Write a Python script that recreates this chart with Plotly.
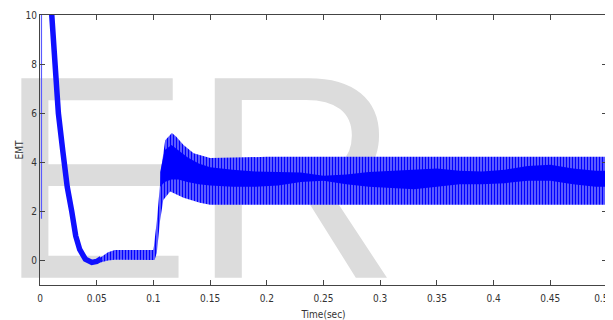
import plotly.graph_objects as go

# ---- data ----
# initial thin spike at t ~ 0
spike_t = [0.0013, 0.0013]
spike_v = [1.7, 14.0]

# descent of the torque (centre line)
desc_t = [0.0013, 0.005, 0.0095, 0.0103, 0.0133, 0.0162, 0.0200, 0.0240, 0.0280,
          0.0315, 0.0350, 0.0400, 0.0457, 0.0500, 0.0540]
desc_v = [14.0, 13.0, 10.6, 10.0, 8.0, 6.0, 4.5, 3.0, 2.0,
          1.0, 0.45, 0.05, -0.08, -0.04, 0.08]

# ripple envelope (upper / lower edges)
up_t = [0.050, 0.055, 0.060, 0.066, 0.080, 0.0998, 0.1005, 0.1031, 0.1075, 0.1104,
        0.1163, 0.1200, 0.1266, 0.1355, 0.150, 0.200, 0.300, 0.400, 0.500]
up_v = [0.02, 0.18, 0.33, 0.43, 0.43, 0.43, 0.60, 1.65, 3.96, 4.90,
        5.19, 5.05, 4.70, 4.37, 4.17, 4.22, 4.22, 4.22, 4.22]
lo_t = [0.050, 0.055, 0.060, 0.066, 0.080, 0.1010, 0.1030, 0.1058, 0.1087, 0.1148,
        0.1266, 0.1410, 0.150, 0.500]
lo_v = [-0.12, -0.05, 0.00, 0.03, 0.02, 0.02, 0.30, 1.60, 2.46, 2.81,
        2.55, 2.35, 2.27, 2.27]

# dense dark core of the ripple
core_t = [0.106, 0.110, 0.116, 0.122, 0.130, 0.140, 0.150, 0.170, 0.190, 0.210, 0.230,
          0.250, 0.270, 0.290, 0.310, 0.330, 0.350, 0.370, 0.390, 0.410, 0.430,
          0.450, 0.470, 0.490, 0.500]
core_hi = [3.6, 4.5, 4.7, 4.5, 4.2, 3.95, 3.8, 3.7, 3.62, 3.6, 3.58,
           3.45, 3.5, 3.6, 3.65, 3.7, 3.75, 3.65, 3.62, 3.7, 3.85,
           3.9, 3.75, 3.65, 3.65]
core_lo = [3.0, 3.2, 3.3, 3.3, 3.2, 3.1, 3.05, 3.0, 3.0, 3.05, 3.2,
           3.25, 3.1, 3.0, 2.95, 2.9, 3.0, 3.1, 3.1, 3.15, 3.25,
           3.25, 3.1, 3.0, 3.0]

x_ticks = [0, 0.05, 0.1, 0.15, 0.2, 0.25, 0.3, 0.35, 0.4, 0.45, 0.5]
# last label padded with transparent characters so it is not clipped at the window edge
x_labels = ["0", "0.05", "0.1", "0.15", "0.2", "0.25", "0.3", "0.35", "0.4", "0.45",
            "0.5<span style='color:rgba(0,0,0,0)'>00</span>"]
y_ticks = [0, 2, 4, 6, 8, 10]
y_labels = ["0", "2", "4", "6", "8", "10"]

FONT = "DejaVu Sans Condensed, Liberation Sans Narrow, Liberation Sans, Arial"
AX = "#444444"

fig = go.Figure()

# watermark "ER" behind the data
fig.add_trace(go.Scatter(
    x=[0.1402], y=[2.25], mode="text", text=["ER"], textposition="middle center",
    textfont=dict(family="Liberation Sans, Arial", size=290, color="#dcdcdc"),
    cliponaxis=False, hoverinfo="skip", showlegend=False))

# ripple envelope with vertical streak texture
fig.add_trace(go.Scatter(x=lo_t, y=lo_v, mode="lines", line=dict(width=0, color="#7a7aff"),
                         showlegend=False, hoverinfo="skip"))
fig.add_trace(go.Scatter(x=up_t, y=up_v, mode="lines", line=dict(width=0, color="#7a7aff"),
                         fill="tonexty", fillcolor="#7878ff",
                         fillpattern=dict(shape="|", size=3, solidity=0.5,
                                          fgcolor="#0000ff", bgcolor="#7878ff",
                                          fillmode="replace"),
                         showlegend=False, hoverinfo="skip"))

# dark core
fig.add_trace(go.Scatter(x=core_t, y=core_lo, mode="lines", line=dict(width=0, color="#0000ff"),
                         showlegend=False, hoverinfo="skip"))
fig.add_trace(go.Scatter(x=core_t, y=core_hi, mode="lines", line=dict(width=0, color="#0000ff"),
                         fill="tonexty", fillcolor="#0000ff",
                         showlegend=False, hoverinfo="skip"))

# initial thin spike
fig.add_trace(go.Scatter(x=spike_t, y=spike_v, mode="lines",
                         line=dict(width=1.2, color="#5a5aff"),
                         showlegend=False, hoverinfo="skip"))

# descent
fig.add_trace(go.Scatter(x=desc_t, y=desc_v, mode="lines",
                         line=dict(width=5.5, color="#1010ff"),
                         showlegend=False, hoverinfo="skip"))

axis_common = dict(showgrid=False, zeroline=False, showline=True, linecolor=AX, linewidth=1,
                   mirror="ticks", ticks="inside", ticklen=5, tickcolor=AX, tickwidth=1,
                   automargin=False, ticklabeloverflow="allow",
                   tickfont=dict(family=FONT, size=10, color="#333333"))

# the page body adds an 8 px offset, so the figure is sized to fit the window
fig.update_layout(
    width=605, height=312,
    margin=dict(l=32, r=6, t=7, b=35, autoexpand=False),
    paper_bgcolor="white", plot_bgcolor="white",
    xaxis=dict(range=[0, 0.5], tickvals=x_ticks, ticktext=x_labels, ticklabelstandoff=4,
               title=dict(text="Time(sec)", font=dict(family=FONT, size=10, color="#333333"),
                          standoff=8),
               **axis_common),
    yaxis=dict(range=[-1, 10], tickvals=y_ticks, ticktext=y_labels,
               title=dict(text="EMT", font=dict(family=FONT, size=10, color="#333333"),
                          standoff=0),
               **axis_common),
)

fig.write_html("out.html")
